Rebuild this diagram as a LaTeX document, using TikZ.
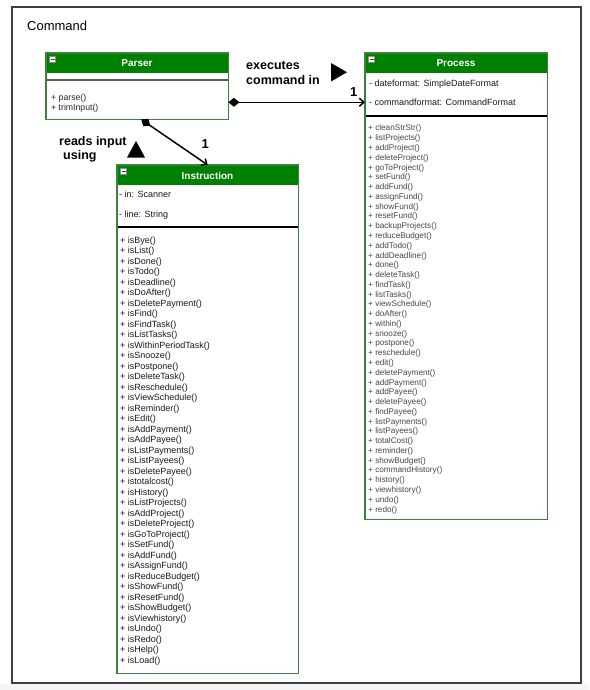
\documentclass[tikz,border=0pt]{standalone}
\usepackage{fontspec}
\setmainfont{Liberation Sans}
\usetikzlibrary{arrows.meta,calc}
\definecolor{hdr}{HTML}{008000}
\definecolor{bord}{HTML}{3C823C}
\begin{document}
\begin{tikzpicture}[x=1pt,y=-1pt,
  box/.style={rectangle,fill=white,inner sep=0pt,anchor=north west},
  outline/.style={draw=bord,line width=1.5pt},
  title/.style={text=white,font=\fontsize{10}{12}\selectfont\bfseries,anchor=base,inner sep=0pt},
  minusicon/.style={draw=black!45,fill=white,minimum size=6pt,inner sep=0pt,line width=0.5pt,
    path picture={\draw[black!75,line width=0.8pt] ($(path picture bounding box.west)+(1pt,0)$) -- ($(path picture bounding box.east)+(-1pt,0)$);}},
  attr/.style={font=\fontsize{9}{10.5}\selectfont,text=black!90,anchor=base west,inner sep=0pt},
  imeth/.style={font=\fontsize{9}{10.5}\selectfont,text=black!90,anchor=base west,inner sep=0pt},
  pmeth/.style={font=\fontsize{8.2}{9.8}\selectfont,text=black!72,anchor=base west,inner sep=0pt},
  lbl/.style={font=\fontsize{12.5}{15}\selectfont\bfseries,anchor=base west,inner sep=0pt},
  conn/.style={line width=1.5pt,black},
  tri/.style={fill=black}
]
\useasboundingbox (0,0) rectangle (589,690);
\fill[black!4] (0,684) rectangle (589,690);

% frame
\node[box,draw=black!75,line width=1.6pt,fill=none,minimum width=569pt,minimum height=676pt] (frame) at (11,6) {};
\node[font=\fontsize{13}{15}\selectfont,anchor=base west,inner sep=0pt] (cmdlabel) at (27,31) {Command};

% Parser
\node[box,minimum width=182pt,minimum height=66pt] (parser) at (46,53) {};
\fill[hdr] (parser.north west) rectangle ($(parser.north east)+(0,20)$);
\draw[black!65,line width=2pt] ($(parser.north west)+(0,27)$) -- ($(parser.north east)+(0,27)$);
\draw[outline] (parser.south west) rectangle (parser.north east);
\node[title] (ptitle) at (137,67) {Parser};
\node[minusicon] (picon) at (52.5,59.5) {};
\node[font=\fontsize{8.7}{10}\selectfont,text=black!85,anchor=base west,inner sep=0pt] (pm1) at (51,100.5) {+ parse()};
\node[font=\fontsize{8.7}{10}\selectfont,text=black!85,anchor=base west,inner sep=0pt] (pm2) at (51,110.5) {+ trimInput()};

% Process
\node[box,minimum width=182pt,minimum height=466pt] (process) at (365,53) {};
\fill[hdr] (process.north west) rectangle ($(process.north east)+(0,20)$);
\draw[black,line width=1.2pt] ($(process.north west)+(0,63)$) -- ($(process.north east)+(0,63)$);
\draw[outline] (process.south west) rectangle (process.north east);
\node[title] (prtitle) at (456,67) {Process};
\node[minusicon] (pricon) at (371.5,59.5) {};
\node[attr] (pra1) at (369,86.5) {- dateformat: SimpleDateFormat};
\node[attr] (pra2) at (369,105.5) {- commandformat: CommandFormat};
\foreach \t [count=\i] in {cleanStrStr,listProjects,addProject,deleteProject,goToProject,setFund,addFund,assignFund,showFund,resetFund,backupProjects,reduceBudget,addTodo,addDeadline,done,deleteTask,findTask,listTasks,viewSchedule,doAfter,within,snooze,postpone,reschedule,edit,deletePayment,addPayment,addPayee,deletePayee,findPayee,listPayments,listPayees,totalCost,reminder,showBudget,commandHistory,history,viewhistory,undo,redo}
  \node[pmeth] (prm\i) at (368,{131+(\i-1)*9.77}) {+ \t()};

% Instruction
\node[box,minimum width=181pt,minimum height=508pt] (instr) at (117,165) {};
\fill[hdr] (instr.north west) rectangle ($(instr.north east)+(0,20)$);
\draw[black,line width=1.2pt] ($(instr.north west)+(0,62)$) -- ($(instr.north east)+(0,62)$);
\draw[outline] (instr.south west) rectangle (instr.north east);
\node[title] (ititle) at (207.5,179) {Instruction};
\node[minusicon] (iicon) at (123.5,171.5) {};
\node[attr] (ia1) at (119,197.5) {- in: Scanner};
\node[attr] (ia2) at (119,217.5) {- line: String};
\foreach \t [count=\i] in {isBye,isList,isDone,isTodo,isDeadline,isDoAfter,isDeletePayment,isFind,isFindTask,isListTasks,isWithinPeriodTask,isSnooze,isPostpone,isDeleteTask,isReschedule,isViewSchedule,isReminder,isEdit,isAddPayment,isAddPayee,isListPayments,isListPayees,isDeletePayee,istotalcost,isHistory,isListProjects,isAddProject,isDeleteProject,isGoToProject,isSetFund,isAddFund,isAssignFund,isReduceBudget,isShowFund,isResetFund,isShowBudget,isViewhistory,isUndo,isRedo,isHelp,isLoad}
  \node[imeth] (im\i) at (120,{243.3+(\i-1)*10.5}) {+ \t()};

% connectors
\coordinate (pstart) at ($(parser.north east)!0.742!(parser.south east)$);
\coordinate (pend) at (process.west |- pstart);
\draw[conn,{Diamond[length=11pt,width=9pt]}-{Straight Barb[length=4.5pt,width=8pt]}] (pstart) -- (pend);
\coordinate (qstart) at ($(parser.south west)!0.522!(parser.south east)$);
\draw[conn,{Diamond[length=11pt,width=9pt]}-{Straight Barb[length=4.5pt,width=8pt]}] (qstart) -- (instr.north);

% labels
\node[lbl] (ex1) at (246,70) {executes};
\node[lbl] (ex2) at (246,85) {command in};
\node[lbl,font=\fontsize{13}{15}\selectfont\bfseries] (one1) at (350,97) {1};
\node[lbl] (rd1) at (59,145) {reads input};
\node[lbl] (rd2) at (63,159.5) {using};
\node[lbl,font=\fontsize{13}{15}\selectfont\bfseries] (one2) at (201.5,148) {1};
\fill[tri] (331,63) -- (331,81.5) -- (347,72.25) -- cycle;
\fill[tri] (127,157.5) -- (145,157.5) -- (136,141) -- cycle;
\end{tikzpicture}
\end{document}
